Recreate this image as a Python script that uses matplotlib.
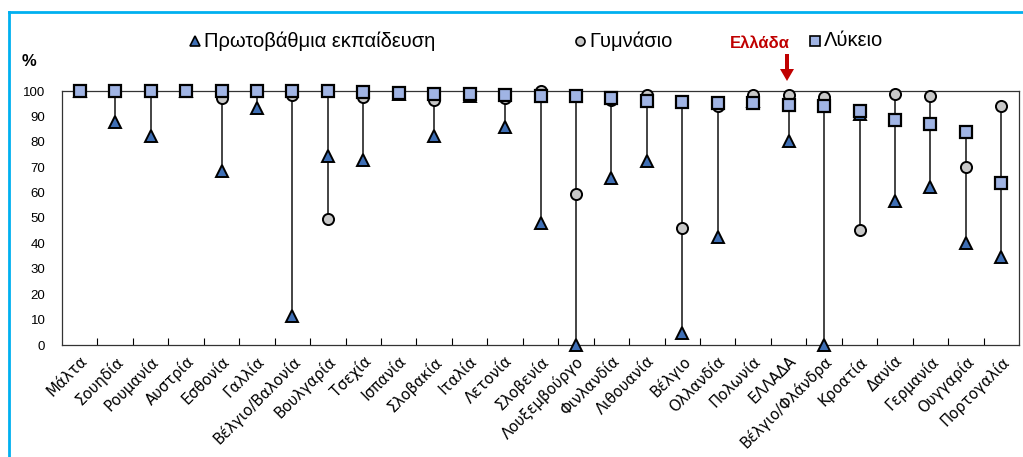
import matplotlib
matplotlib.use("Agg")
import matplotlib.pyplot as plt
from matplotlib.lines import Line2D
from matplotlib.patches import FancyArrow
import numpy as np

countries = ["Μάλτα", "Σουηδία", "Ρουμανία", "Αυστρία", "Εσθονία", "Γαλλία",
             "Βέλγιο/Βαλονία", "Βουλγαρία", "Τσεχία", "Ισπανία", "Σλοβακία",
             "Ιταλία", "Λετονία", "Σλοβενία", "Λουξεμβούργο", "Φινλανδία",
             "Λιθουανία", "Βέλγιο", "Ολλανδία", "Πολωνία", "ΕΛΛΑΔΑ",
             "Βέλγιο/Φλάνδρα", "Κροατία", "Δανία", "Γερμανία", "Ουγγαρία",
             "Πορτογαλία"]
primary = [100, 87.7, 82.4, 100, 68.5, 93.2, 11.3, 74.6, 72.9, 99, 82.4,
           98, 86, 48, 0, 65.7, 72.6, 4.7, 42.5, 96, 80.5, 0, 91, 56.7,
           62.1, 40.1, 34.6]
gymnasio = [100, 100, 100, 100, 97.4, 100, 98.4, 49.8, 97.8, 99.3, 96.5,
            98.5, 97.1, 100, 59.5, 96.5, 98.3, 46, 94.1, 98.3, 98.3, 97.5,
            45.1, 98.8, 98, 70.1, 94.2]
lykeio = [100, 100, 100, 100, 100, 100, 100, 100, 99.5, 99.1, 98.7, 98.7,
          98.3, 98, 98, 97.4, 96.2, 95.8, 95.4, 95.4, 94.6, 94.1, 92.0,
          88.6, 87, 83.7, 63.7]
legend_labels = ["Πρωτοβάθμια εκπαίδευση", "Γυμνάσιο", "Λύκειο"]
yticks = list(range(0, 101, 10))

W, H = 1023, 457
fig = plt.figure(figsize=(W / 100, H / 100), dpi=100)
ax = fig.add_axes([62 / W, (H - 345) / H, (1019 - 62) / W, (345 - 91) / H])

x = np.arange(len(countries))
lo = np.minimum(np.minimum(primary, gymnasio), lykeio)
hi = np.maximum(np.maximum(primary, gymnasio), lykeio)
ax.vlines(x, lo, hi, color="#111111", lw=1.1, zorder=2)

tri_kw = dict(marker="^", ms=8, mfc="#3F6FB5", mec="black", mew=1.4, ls="none")
cir_kw = dict(marker="o", ms=8, mfc="#C8C8C8", mec="black", mew=1.4, ls="none")
sq_kw = dict(marker="s", ms=8, mfc="#A0B4E4", mec="black", mew=1.6, ls="none")
ax.plot(x, primary, zorder=3, clip_on=False, **tri_kw)
ax.plot(x, gymnasio, zorder=4, clip_on=False, **cir_kw)
ax.plot(x, lykeio, zorder=5, clip_on=False, **sq_kw)

ax.set_xlim(-0.5, len(countries) - 0.5)
ax.set_ylim(0, 100)
ax.set_yticks(yticks)
ax.set_yticklabels([str(v) for v in yticks], fontsize=9.5, family="Liberation Sans")
ax.tick_params(axis="y", length=0, pad=12)
ax.set_xticks(x)
ax.set_xticklabels(countries, rotation=45, ha="right", rotation_mode="anchor",
                   fontsize=10.7, family="DejaVu Sans")
ax.tick_params(axis="x", which="major", length=0, pad=6)
ax.set_xticks(np.arange(0.5, len(countries) - 0.5, 1), minor=True)
ax.tick_params(axis="x", which="minor", direction="in", length=5, width=0.8)
for s in ax.spines.values():
    s.set_linewidth(0.9)
    s.set_color("#333333")

# % label
fig.text(22 / W, 1 - 61 / H, "%", fontsize=12, fontweight="bold",
         family="Liberation Sans", va="center", ha="left")

# legend
leg_items = [(195, tri_kw, legend_labels[0]), (580, cir_kw, legend_labels[1]),
             (815, sq_kw, legend_labels[2])]
for px, kw, lab in leg_items:
    k = dict(kw)
    k["ms"] = 6.5
    k["mew"] = 1.2
    fig.add_artist(Line2D([px / W], [1 - 41 / H], transform=fig.transFigure, **k))
    fig.text((px + 9) / W, 1 - 41 / H, lab, fontsize=14.5, family="Liberation Sans",
             va="center", ha="left")

# Greece marker
fig.text(760 / W, 1 - 44 / H, "Ελλάδα", fontsize=12, fontweight="bold",
         color="#C00000", family="Liberation Sans", va="center", ha="center")
fig.add_artist(FancyArrow(787 / W, 1 - 54 / H, 0, -(27 / H), width=4 / W,
                          head_width=14 / W, head_length=12 / H,
                          length_includes_head=True, transform=fig.transFigure,
                          color="#C00000", lw=0))

# blue frame
fig.add_artist(Line2D([9 / W, 9 / W], [0, 1 - 12 / H], transform=fig.transFigure,
                      color="#00B0F0", lw=2))
fig.add_artist(Line2D([9 / W, 1], [1 - 12 / H, 1 - 12 / H], transform=fig.transFigure,
                      color="#00B0F0", lw=2))

fig.savefig("out.png", dpi=100)
